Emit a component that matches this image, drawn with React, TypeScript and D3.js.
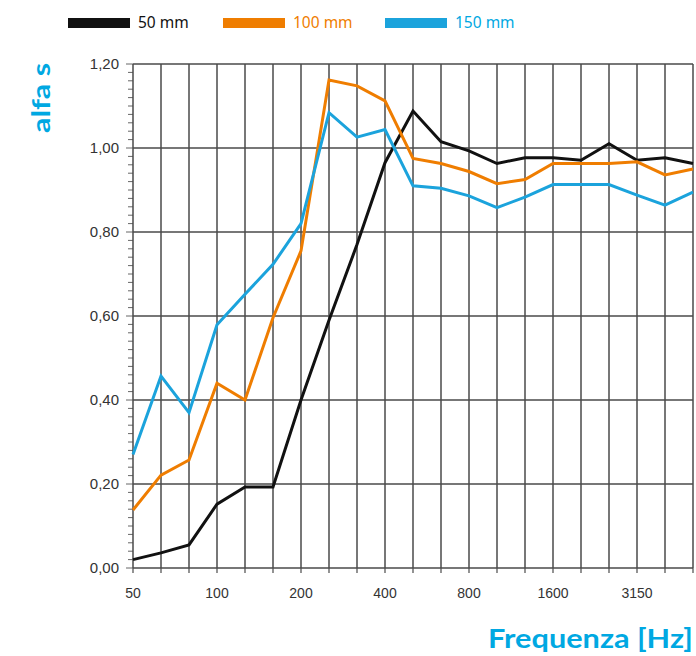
import React from "react";
import * as d3 from "d3";

const bands = ["50","63","80","100","125","160","200","250","315","400","500","630","800","1000","1250","1600","2000","2500","3150","4000","5000"];
const labeledBands = ["50","100","200","400","800","1600","3150"];
const series50 = [0.02,0.036,0.055,0.152,0.193,0.193,0.40,0.59,0.77,0.965,1.088,1.015,0.993,0.963,0.977,0.977,0.971,1.01,0.971,0.977,0.963];
const series100 = [0.138,0.221,0.257,0.44,0.40,0.596,0.755,1.162,1.148,1.112,0.975,0.963,0.944,0.915,0.925,0.963,0.963,0.963,0.967,0.936,0.95];
const series150 = [0.27,0.457,0.37,0.579,0.652,0.723,0.82,1.084,1.026,1.044,0.91,0.904,0.886,0.858,0.883,0.913,0.913,0.913,0.888,0.864,0.895];
const yMajor = [0,0.2,0.4,0.6,0.8,1.0,1.2];
const seriesNames = ["50 mm","100 mm","150 mm"];
const lineColors = ["#111111","#EF7D00","#1BA3DC"];
const textColors = ["#111111","#EF7D00","#00A8E2"];

export default function App() {
  const W = 696, H = 656;
  const left = 133, right = 693, top = 64, bottom = 568;
  const x = d3.scalePoint<string>().domain(bands).range([left, right]);
  const y = d3.scaleLinear().domain([0, 1.2]).range([bottom, top]);
  const line = d3.line<number>().x((_, i) => x(bands[i]) as number).y(d => y(d));
  const minor = d3.range(0, 61).map(i => i * 0.02);
  const data = [series50, series100, series150];
  const legendX = [68, 223, 385];
  const fmt = (v: number) => v.toFixed(2).replace(".", ",");
  return (
    <svg width={W} height={H} style={{ position: "absolute", left: 0, top: 0, background: "#fff" }}>
      {/* legend */}
      {seriesNames.map((n, i) => (
        <g key={n}>
          <rect x={legendX[i]} y={18} width={62} height={10} fill={lineColors[i]} />
          <text x={legendX[i] + 70} y={28} fontSize={15.5} fontFamily="'Noto Sans', sans-serif" fill={textColors[i]}>{n}</text>
        </g>
      ))}
      {/* minor y ticks */}
      {minor.map((v, i) => (
        <line key={"m" + i} x1={i % 10 === 0 ? left - 7 : left - 5} x2={left} y1={y(v)} y2={y(v)} stroke="#666" strokeWidth={1} />
      ))}
      {/* vertical grid */}
      {bands.map(b => (
        <g key={"v" + b}>
          <line x1={x(b)} x2={x(b)} y1={top} y2={bottom} stroke="#4a4a4a" strokeWidth={1.5} />
          <line x1={x(b)} x2={x(b)} y1={bottom} y2={bottom + 5} stroke="#4a4a4a" strokeWidth={1.2} />
        </g>
      ))}
      {/* horizontal grid */}
      {yMajor.map(v => (
        <line key={"h" + v} x1={left} x2={right} y1={y(v)} y2={y(v)} stroke="#4a4a4a" strokeWidth={1.7} />
      ))}
      {/* y labels */}
      {yMajor.map(v => (
        <text key={"yl" + v} x={left - 14} y={y(v) + 5} textAnchor="end" fontSize={15} fontFamily="'Liberation Sans', Arial, sans-serif" fill="#333">{fmt(v)}</text>
      ))}
      {/* x labels */}
      {labeledBands.map(b => (
        <text key={"xl" + b} x={x(b)} y={598} textAnchor="middle" fontSize={14} fontFamily="'Liberation Sans', Arial, sans-serif" fill="#333">{b}</text>
      ))}
      {/* series */}
      {data.map((s, i) => (
        <path key={"s" + i} d={line(s) || ""} fill="none" stroke={lineColors[i]} strokeWidth={3} strokeLinejoin="miter" />
      ))}
      {/* axis titles */}
      <text transform="translate(50,98) rotate(-90)" textAnchor="middle" fontSize={25} fontWeight="bold" fontFamily="Lato, 'Noto Sans', sans-serif" fill="#00A8E2" textLength={70} lengthAdjust="spacingAndGlyphs">alfa s</text>
      <text x={693} y={648} textAnchor="end" fontSize={27} fontWeight="bold" fontFamily="Lato, 'Noto Sans', sans-serif" fill="#00A8E2" textLength={205} lengthAdjust="spacingAndGlyphs">Frequenza [Hz]</text>
    </svg>
  );
}
